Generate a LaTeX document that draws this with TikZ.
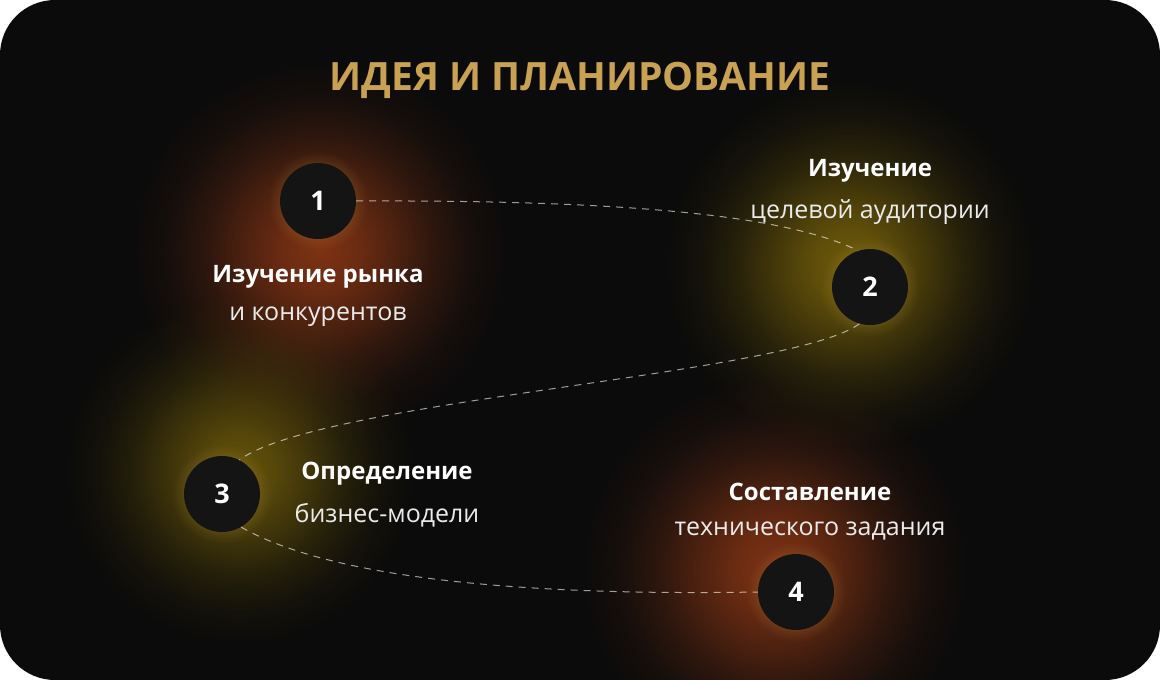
\documentclass[tikz,border=0pt]{standalone}
\usepackage{fontspec}
\setmainfont{Open Sans}
\newfontfamily\titlefont{Open Sans}
\usetikzlibrary{fadings}
\pgfdeclareradialshading{softglowshade}{\pgfpointorigin}{color(0bp)=(white); color(5bp)=(white!85!black); color(10bp)=(white!58!black); color(15bp)=(white!30!black); color(20bp)=(white!10!black); color(25bp)=(black); color(50bp)=(black)}
\pgfdeclarefading{softglow}{\pgfuseshading{softglowshade}}
\definecolor{cardbg}{HTML}{0B0B0B}
\definecolor{gold}{HTML}{C9A152}
\definecolor{glowred}{RGB}{125,50,20}
\definecolor{glowyel}{RGB}{110,90,10}
\definecolor{halo}{RGB}{220,180,70}
\tikzset{
  stepnum/.style={circle, fill=black!92, minimum size=76pt, inner sep=0pt, text=white, font=\bfseries\fontsize{27}{30}\selectfont},
  boldlbl/.style={text=white, font=\bfseries\fontsize{24}{28}\selectfont, inner sep=0pt},
  lightlbl/.style={text=white!92!black, font=\fontsize{25}{28}\selectfont, inner sep=0pt},
  link/.style={draw=white, draw opacity=0.6, line width=1pt, dash pattern=on 7pt off 6pt},
  glow/.style={path fading=softglow},
}
\begin{document}
\begin{tikzpicture}[x=1pt,y=-1pt]
\fill[white] (0,0) rectangle (1160,680);
\useasboundingbox (0,0) rectangle (1160,680);
\fill[cardbg, rounded corners=55pt] (0,0) rectangle (1160,680);
% glows
\fill[glowred, glow] (320,250) circle (190pt);
\fill[glowyel, glow] (850,265) circle (185pt);
\fill[glowyel, glow, fill opacity=0.9] (240,470) circle (175pt);
\fill[glowred, glow] (775,570) circle (195pt);
% halos
\foreach \p in {(318,201),(870,287),(222,494),(796,592)}{
  \fill[halo, glow, fill opacity=0.9] \p circle (50pt);
}
% title
\node[text=gold, font=\titlefont\bfseries\fontsize{39}{44}\selectfont] (title) at (580,80) {ИДЕЯ И ПЛАНИРОВАНИЕ};
% step circles
\node[stepnum] (n1) at (318,201) {1};
\node[stepnum] (n2) at (870,287) {2};
\node[stepnum] (n3) at (222,494) {3};
\node[stepnum] (n4) at (796,592) {4};
% labels
\node[boldlbl] (l1a) at (318,277) {Изучение рынка};
\node[lightlbl] (l1b) at (318,317) {и конкурентов};
\node[boldlbl] (l2a) at (870,171) {Изучение};
\node[lightlbl] (l2b) at (870,212) {целевой аудитории};
\node[boldlbl] (l3a) at (387,474) {Определение};
\node[lightlbl] (l3b) at (387,515) {бизнес-модели};
\node[boldlbl] (l4a) at (810,492) {Составление};
\node[lightlbl] (l4b) at (810,531) {технического задания};
% connectors
\draw[link] (n1.east) .. controls (600,200) and (780,212) .. (n2.108);
\draw[link] (n2.-106) .. controls (790,375) and (320,400) .. (n3.63);
\draw[link] (n3.-60) .. controls (330,578) and (520,596) .. (n4.west);
\end{tikzpicture}
\end{document}
